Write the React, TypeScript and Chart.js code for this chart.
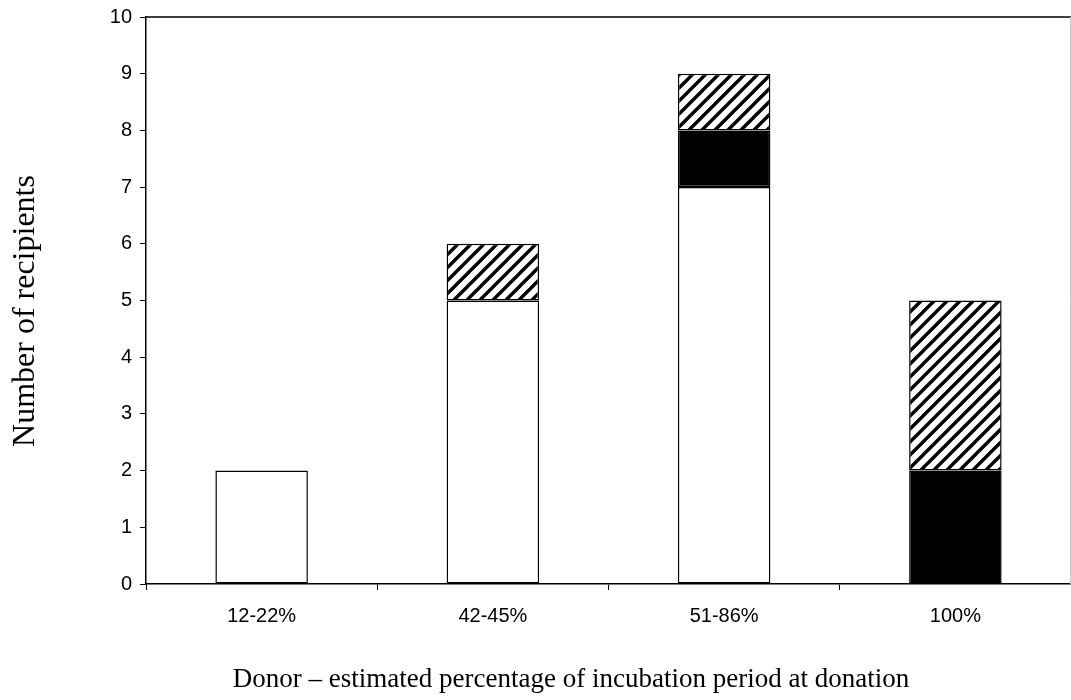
import React, { useEffect, useRef } from 'react';
import { Chart, registerables } from 'chart.js';

Chart.register(...registerables);

const categories = ['12-22%', '42-45%', '51-86%', '100%'];
const whiteValues = [2, 5, 7, null];
const blackValues = [null, null, 1, 2];
const hatchedValues = [null, 1, 1, 3];
const yMin = 0;
const yMax = 10;
const yStep = 1;
const yTitle = 'Number of recipients';
const xTitle = 'Donor – estimated percentage of incubation period at donation';

function makeHatch(): CanvasPattern | string {
  const s = 13;
  const c = document.createElement('canvas');
  c.width = s;
  c.height = s;
  const g = c.getContext('2d');
  if (!g) return '#888';
  g.fillStyle = '#fff';
  g.fillRect(0, 0, s, s);
  g.strokeStyle = '#000';
  g.lineWidth = 3.4;
  g.lineCap = 'square';
  g.beginPath();
  for (const o of [-s, 0, s]) {
    g.moveTo(o - 3, s + 3);
    g.lineTo(o + s + 3, -3);
  }
  g.stroke();
  return g.createPattern(c, 'repeat') || '#888';
}

const framePlugin = {
  id: 'frame',
  afterDraw(chart: any) {
    const { ctx, chartArea } = chart;
    const { left, top, right, bottom } = chartArea;
    ctx.save();
    ctx.strokeStyle = '#000';
    ctx.lineWidth = 1.5;
    ctx.beginPath();
    ctx.moveTo(left, top);
    ctx.lineTo(chart.width, top);
    ctx.stroke();
    ctx.strokeStyle = '#ccc';
    ctx.lineWidth = 1;
    ctx.beginPath();
    ctx.moveTo(right - 0.5, top);
    ctx.lineTo(right - 0.5, bottom);
    ctx.stroke();

    ctx.fillStyle = '#000';
    ctx.font = '32px "Liberation Serif", "Times New Roman", serif';
    ctx.textAlign = 'center';
    ctx.textBaseline = 'alphabetic';
    ctx.save();
    ctx.translate(34, 311);
    ctx.rotate(-Math.PI / 2);
    ctx.fillText(yTitle, 0, 0);
    ctx.restore();

    ctx.font = '27px "Liberation Serif", "Times New Roman", serif';
    ctx.fillText(xTitle, 571, 687);
    ctx.restore();
  },
};

export default function App() {
  const ref = useRef<HTMLCanvasElement>(null);

  useEffect(() => {
    if (!ref.current) return;
    const hatch = makeHatch();
    const tickFont = { family: '"Liberation Sans", Arial, sans-serif', size: 20 };
    const common = {
      borderColor: '#000',
      borderWidth: 1.5,
      borderSkipped: false as const,
      barPercentage: 0.4,
      categoryPercentage: 1,
    };
    const chart = new Chart(ref.current, {
      type: 'bar',
      data: {
        labels: categories,
        datasets: [
          { label: 'white', data: whiteValues, backgroundColor: '#fff', ...common },
          { label: 'black', data: blackValues, backgroundColor: '#000', ...common },
          { label: 'hatched', data: hatchedValues, backgroundColor: hatch as any, ...common },
        ],
      },
      options: {
        animation: false,
        responsive: false,
        maintainAspectRatio: false,
        layout: { padding: { top: 17, right: 0, left: 0, bottom: 0 } },
        plugins: {
          legend: { display: false },
          tooltip: { enabled: false },
        },
        scales: {
          x: {
            stacked: true,
            offset: true,
            grid: {
              display: true,
              drawOnChartArea: false,
              drawTicks: true,
              tickLength: 6,
              color: '#000',
              lineWidth: 1,
              offset: true,
            },
            border: { display: true, color: '#000', width: 1.5 },
            ticks: { color: '#000', font: tickFont, padding: 14, maxRotation: 0 },
            title: { display: false },
            afterFit(scale: any) {
              scale.height = 116;
              scale.paddingLeft = 0;
              scale.paddingRight = 0;
            },
          },
          y: {
            stacked: true,
            min: yMin,
            max: yMax,
            grid: {
              display: true,
              drawOnChartArea: false,
              drawTicks: true,
              tickLength: 6,
              color: '#000',
              lineWidth: 1,
            },
            border: { display: true, color: '#000', width: 1.5 },
            ticks: { stepSize: yStep, color: '#000', font: tickFont, padding: 8 },
            title: { display: false },
            afterFit(scale: any) {
              scale.width = 146;
              scale.paddingTop = 0;
              scale.paddingBottom = 0;
            },
          },
        },
      },
      plugins: [framePlugin],
    });
    return () => chart.destroy();
  }, []);

  return (
    <div style={{ position: 'fixed', left: 0, top: 0, width: 1071, height: 700, background: '#fff' }}>
      <canvas ref={ref} width={1071} height={700} style={{ display: 'block', width: 1071, height: 700 }} />
    </div>
  );
}
